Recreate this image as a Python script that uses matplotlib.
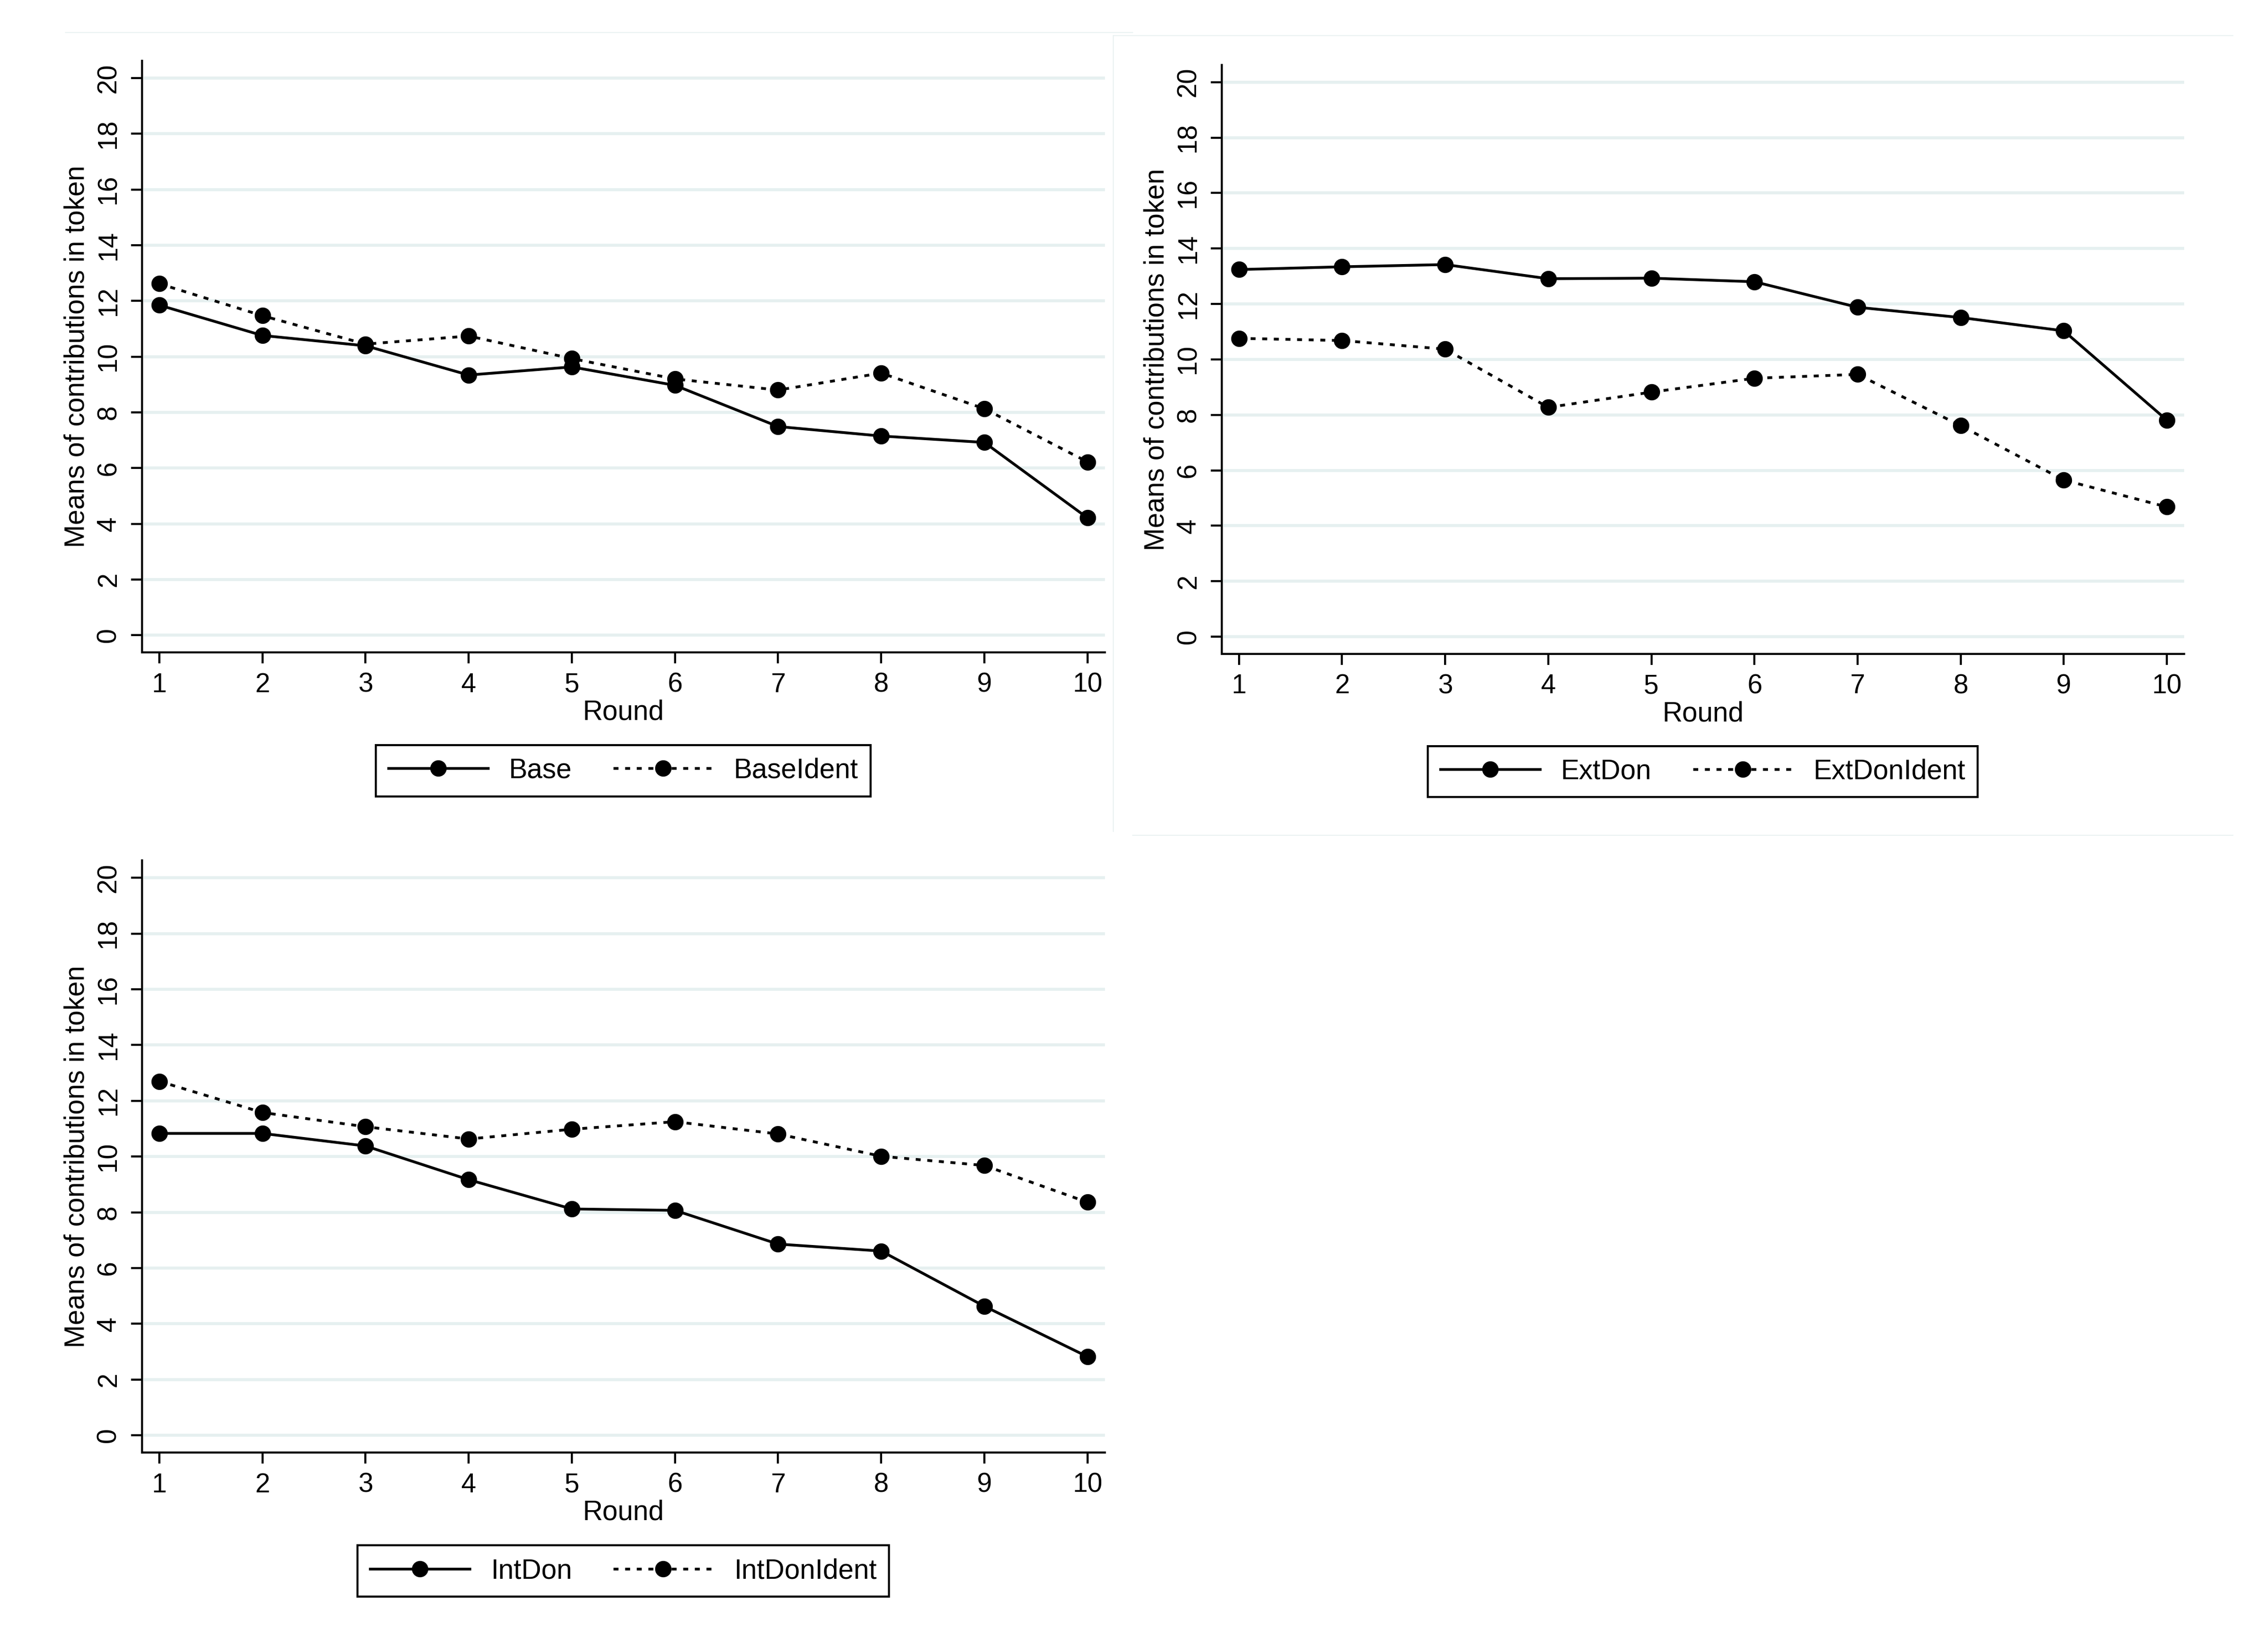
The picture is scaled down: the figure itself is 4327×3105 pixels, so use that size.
import numpy as np
import matplotlib
matplotlib.use("Agg")
import matplotlib.pyplot as plt
from matplotlib.lines import Line2D

plt.rcParams['font.family'] = ['Liberation Sans', 'DejaVu Sans']

rounds = [1, 2, 3, 4, 5, 6, 7, 8, 9, 10]

base = [11.85, 10.76, 10.39, 9.34, 9.63, 8.97, 7.49, 7.15, 6.92, 4.21]
base_ident = [12.62, 11.47, 10.45, 10.74, 9.93, 9.20, 8.80, 9.41, 8.13, 6.22]

extdon = [13.24, 13.34, 13.42, 12.91, 12.93, 12.80, 11.88, 11.51, 11.03, 7.81]
extdon_ident = [10.76, 10.68, 10.37, 8.27, 8.82, 9.32, 9.46, 7.61, 5.65, 4.68]

intdon = [10.83, 10.83, 10.38, 9.17, 8.12, 8.07, 6.86, 6.61, 4.63, 2.82]
intdon_ident = [12.70, 11.58, 11.07, 10.63, 10.98, 11.25, 10.81, 10.01, 9.68, 8.36]

yticks = list(range(0, 21, 2))

panels = [
    ([0.0626, 0.5990, 0.4245, 0.3636], base, base_ident, "Base", "BaseIdent"),
    ([0.5387, 0.5981, 0.4243, 0.3620], extdon, extdon_ident, "ExtDon", "ExtDonIdent"),
    ([0.0626, 0.1072, 0.4245, 0.3639], intdon, intdon_ident, "IntDon", "IntDonIdent"),
]

grid_col = '#e6f0f0'
fig = plt.figure(figsize=(43.27, 31.05), dpi=100)

for rect, solid, dashed, lab1, lab2 in panels:
    ax = fig.add_axes(rect)
    for y in yticks:
        ax.axhline(y, color=grid_col, lw=4.2, zorder=0)
    ax.plot(rounds, solid, color='black', lw=3.8, marker='o', markersize=21.5,
            label=lab1, zorder=3)
    ax.plot(rounds, dashed, color='black', lw=3.8, ls=(0, (1.8, 2.4)), marker='o',
            markersize=21.5, label=lab2, zorder=3)
    ax.set_xlim(0.833, 10.167)
    ax.set_ylim(-0.62, 20.62)
    ax.set_xticks(rounds)
    ax.set_yticks(yticks)
    ax.set_yticklabels([str(v) for v in yticks], rotation=90, va='center')
    ax.spines['top'].set_visible(False)
    ax.spines['right'].set_visible(False)
    ax.spines['left'].set_linewidth(2.8)
    ax.spines['bottom'].set_linewidth(2.8)
    ax.tick_params(axis='both', length=15, width=2.8, labelsize=37, direction='out')
    ax.tick_params(axis='y', pad=13)
    ax.tick_params(axis='x', pad=12)
    ax.set_xlabel("Round", fontsize=38, labelpad=2)
    ax.set_ylabel("Means of contributions in token", fontsize=38, labelpad=8)
    leg = ax.legend(loc='center', bbox_to_anchor=(0.5, -0.2), ncol=2,
                    fontsize=38, handlelength=3.6, handletextpad=0.75,
                    columnspacing=1.5, borderpad=0.45, fancybox=False,
                    framealpha=1, edgecolor='black')
    leg.get_frame().set_linewidth(2.8)

# faint graph-region outlines
W, H = 4327.0, 3105.0
def fline(x0, y0, x1, y1):
    fig.add_artist(Line2D([x0 / W, x1 / W], [1 - y0 / H, 1 - y1 / H],
                          color='#e8f0f0', lw=1.2))

fline(125, 62, 2161, 62)
fline(2124, 68, 4260, 68)
fline(2124, 68, 2124, 1587)
fline(2161, 1594, 4260, 1594)

fig.savefig("out.png", dpi=100, facecolor='white')
